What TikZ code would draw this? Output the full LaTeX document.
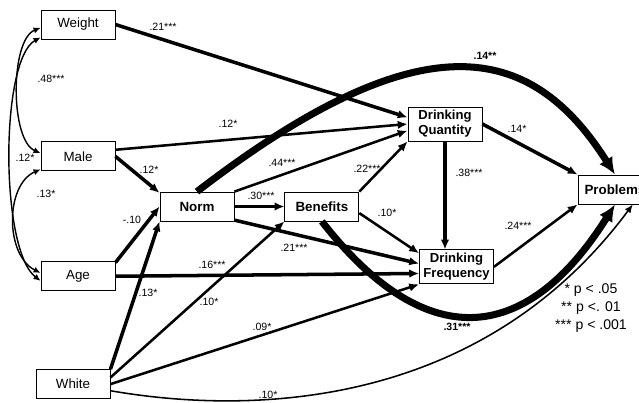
\documentclass[tikz,border=0pt]{standalone}
\usepackage{fontspec}
\setmainfont{Liberation Sans}
\usetikzlibrary{arrows.meta,positioning}

\begin{document}
\begin{tikzpicture}[x=0.025cm, y=0.025cm, >={Latex[length=7pt,width=6pt]}]
	\tikzstyle{box}=[draw, rectangle, line width=0.6pt, minimum width=1.85cm, minimum height=0.725cm, inner sep=0pt, font=\fontsize{9.5}{11}\selectfont]
	\tikzstyle{box_b}=[box, font=\fontsize{9.5}{11}\selectfont\bfseries]
	\tikzstyle{box_2}=[box, minimum height=0.85cm, align=center, font=\fontsize{9.3}{10.7}\selectfont\bfseries]
	\tikzstyle{lbl}=[inner sep=0pt, font=\fontsize{7.5}{9}\selectfont]
	\tikzstyle{lbl_b}=[lbl, font=\fontsize{7.5}{9}\selectfont\bfseries]
	\tikzstyle{cov}=[<->, line width=1pt, >={Latex[length=5pt,width=4.5pt]}]
	\tikzstyle{p_thin}=[->, line width=1.1pt, >={Latex[length=6pt,width=5pt]}]
	\tikzstyle{p_a}=[->, line width=1.8pt]
	\tikzstyle{p_b}=[->, line width=2.5pt]
	\tikzstyle{p_big}=[->, line width=5pt, >={Latex[length=12pt,width=11pt]}]
	
	\useasboundingbox (0,0) rectangle (639,-402);
	
	\node[box] (weight) at (78,-24.5) {Weight};
	\node[box] (male) [below=2.55cm of weight] {Male};
	\node[box] (age) [below=2.25cm of male] {Age};
	\node[box] (white) [below=1.95cm of age, xshift=-0.125cm] {White};
	
	\node[box_b] (norm) at (197,-206.5) {Norm};
	\node[box_b] (ben) [right=1.25cm of norm] {Benefits};
	
	\node[box_2] (dq) at (445,-124) {Drinking\\Quantity};
	\node[box_2] (df) [below=2.7cm of dq, xshift=0.2875cm] {Drinking\\Frequency};
	\node[box_b] (prob) at (615,-189.5) {Problems};
	
	\node[align=center, font=\fontsize{10}{12.8}\selectfont] (legend) at (591,-308) {* p < .05\\** p <. 01\\*** p < .001};
	
	% correlations among the covariates
	\draw[cov] (weight.185) .. controls (10,-40) and (10,-140) .. (male.175);
	\draw[cov] (weight.199) .. controls (0,-60) and (0,-250) .. (age.187);
	\draw[cov] (male.199) .. controls (5,-185) and (5,-255) .. (age.175);
	
	\draw[p_b] (weight.east) -- (dq.170);
	\draw[p_a] (male.10) -- (dq.west);
	\draw[p_b] (male.east) -- (norm.160);
	\draw[p_b] (age.20) -- (norm.west);
	\draw[p_b] (white.north east) -- (norm.south west);
	\draw[p_b] (age.east) -- (df.190);
	\draw[p_a] (white.10) -- (ben.south west);
	\draw[p_a] (white.east) -- (df.south west);
	\draw[p_thin] (white.-10) .. controls (250,-415) and (480,-410) .. (prob.-40);
	
	\draw[p_a] (norm.north east) -- (dq.190);
	\draw[p_b] (norm.east) -- (ben.west);
	\draw[p_b] (norm.-20) -- (df.175);
	\draw[p_a] (ben.north east) -- (dq.south west);
	\draw[p_a] (ben.-10) -- (df.160);
	
	\draw[p_b] (dq.south) -- (dq.south |- df.north);
	\draw[p_b] (dq.east) -- (prob.north west);
	\draw[p_a] (df.east) -- (prob.south west);
	
	\draw[p_big] (norm.north) .. controls (420,-20) and (530,-40) .. (prob.north);
	\draw[p_big] (ben.south) .. controls (430,-360) and (530,-340) .. (prob.south);
	
	% path coefficients
	\node[lbl] (c_wq) at (163,-27) {.21***};
	\node[lbl] (c_wm) at (51,-79) {.48***};
	\node[lbl] (c_wa) at (25,-158) {.12*};
	\node[lbl] (c_ma) at (46,-194) {.13*};
	\node[lbl] (c_mn) at (149,-170) {.12*};
	\node[lbl] (c_an) at (132,-220) {-.10};
	\node[lbl] (c_wn) at (148,-293) {.13*};
	\node[lbl] (c_af) at (212,-265) {.16***};
	\node[lbl] (c_wb) at (209,-302) {.10*};
	\node[lbl] (c_wf) at (262,-327) {.09*};
	\node[lbl] (c_wp) at (268,-395) {.10*};
	\node[lbl] (c_mq) at (228,-124) {.12*};
	\node[lbl] (c_nq) at (282,-163) {.44***};
	\node[lbl] (c_bq) at (367,-169) {.22***};
	\node[lbl] (c_nb) at (261,-196) {.30***};
	\node[lbl] (c_bf) at (387,-213) {.10*};
	\node[lbl] (c_nf) at (294,-248) {.21***};
	\node[lbl_b] (c_np) at (485,-56) {.14**};
	\node[lbl] (c_qp) at (517,-129) {.14*};
	\node[lbl] (c_qf) at (469,-173) {.38***};
	\node[lbl] (c_fp) at (518,-226) {.24***};
	\node[lbl_b] (c_bp) at (457,-327) {.31***};
\end{tikzpicture}
\end{document}
